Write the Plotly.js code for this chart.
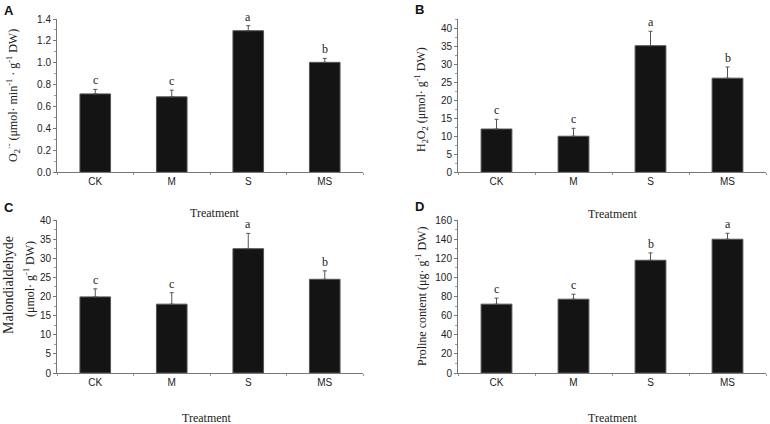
<!DOCTYPE html>
<html><head><meta charset="utf-8">
<script src="https://cdn.plot.ly/plotly-3.0.1.min.js"></script>
<style>html,body{margin:0;padding:0;background:#fff}</style>
</head><body><div id="chart" style="width:770px;height:424px"></div>
<script>
const categories = ['CK', 'M', 'S', 'MS'];

const superoxide = [0.716, 0.689, 1.293, 1.004];
const superoxideErr = [0.041, 0.061, 0.046, 0.036];
const superoxideLetters = ['c', 'c', 'a', 'b'];

const h2o2 = [12.0, 10.0, 35.1, 26.1];
const h2o2Err = [2.7, 2.2, 4.0, 3.1];
const h2o2Letters = ['c', 'c', 'a', 'b'];

const mda = [19.9, 18.0, 32.5, 24.5];
const mdaErr = [2.1, 3.0, 4.0, 2.2];
const mdaLetters = ['c', 'c', 'a', 'b'];

const proline = [72.0, 77.2, 117.9, 139.9];
const prolineErr = [6.3, 5.2, 7.7, 6.2];
const prolineLetters = ['c', 'c', 'b', 'a'];

const panels = [
  {vals: superoxide, err: superoxideErr, letters: superoxideLetters, ax: '', range: [0, 1.4], dtick: 0.2, minor: 0.1, fmt: '.1f'},
  {vals: h2o2, err: h2o2Err, letters: h2o2Letters, ax: '2', range: [0, 42.5], dtick: 5, minor: 2.5, fmt: 'd'},
  {vals: mda, err: mdaErr, letters: mdaLetters, ax: '3', range: [0, 40], dtick: 5, minor: 2.5, fmt: 'd'},
  {vals: proline, err: prolineErr, letters: prolineLetters, ax: '4', range: [0, 160], dtick: 20, minor: 10, fmt: 'd'}
];

const W = 770, H = 424;
const px = v => v / W;
const py = v => 1 - v / H;
const xDomL = [px(57), px(363)], xDomR = [px(458), px(766)];
const yDomT = [py(172.3), py(19)], yDomB = [py(373), py(220)];
const doms = [[xDomL, yDomT], [xDomR, yDomT], [xDomL, yDomB], [xDomR, yDomB]];

const tickFont = {family: 'Liberation Sans, Arial, sans-serif', size: 10, color: '#222'};
const serif = 'Liberation Serif, Times New Roman, serif';

const traces = [];
const layout = {
  width: W, height: H,
  margin: {l: 0, r: 0, t: 0, b: 0},
  paper_bgcolor: '#fff', plot_bgcolor: '#fff',
  showlegend: false,
  annotations: []
};

panels.forEach((p, i) => {
  const xa = 'x' + p.ax, ya = 'y' + p.ax;
  traces.push({
    type: 'bar', x: categories, y: p.vals, xaxis: xa, yaxis: ya,
    width: 0.4,
    marker: {color: '#141414', line: {color: '#555', width: 1}},
    error_y: {type: 'data', symmetric: false, array: p.err, arrayminus: p.err.map(() => 0),
              color: '#555', thickness: 1, width: 2}
  });
  layout['xaxis' + p.ax] = {
    domain: doms[i][0], anchor: ya, type: 'category', range: [-0.5, 3.5],
    showline: true, linecolor: '#777', linewidth: 1, showgrid: false, zeroline: false,
    ticks: 'outside', ticklen: 2, tickcolor: '#999', tickson: 'boundaries',
    tickfont: tickFont, fixedrange: true
  };
  layout['yaxis' + p.ax] = {
    domain: doms[i][1], anchor: xa, range: p.range, dtick: p.dtick, tick0: 0, tickformat: p.fmt,
    showline: true, linecolor: '#777', linewidth: 1, showgrid: false, zeroline: false,
    ticks: 'outside', ticklen: 3, tickcolor: '#777',
    minor: {dtick: p.minor, ticks: 'outside', ticklen: 2, tickcolor: '#999', showgrid: false},
    tickfont: tickFont, fixedrange: true
  };
  p.letters.forEach((l, j) => {
    layout.annotations.push({
      xref: xa, yref: ya, x: categories[j], y: p.vals[j] + p.err[j],
      text: l, showarrow: false, yanchor: 'bottom', xanchor: 'center', yshift: 0,
      font: {family: serif, size: 12, color: '#222'}
    });
  });
});

// panel letters
[['A', 9, 10], ['B', 420, 9], ['C', 9, 207], ['D', 420, 206]].forEach(([t, x, y]) => {
  layout.annotations.push({xref: 'paper', yref: 'paper', x: px(x), y: py(y), text: '<b>' + t + '</b>',
    showarrow: false, xanchor: 'center', yanchor: 'middle',
    font: {family: 'Liberation Sans, Arial, sans-serif', size: 13, color: '#111'}});
});

// x titles
[[215, 213], [613, 214], [207, 418], [613, 418]].forEach(([x, y]) => {
  layout.annotations.push({xref: 'paper', yref: 'paper', x: px(x), y: py(y), text: 'Treatment',
    showarrow: false, xanchor: 'center', yanchor: 'middle',
    font: {family: serif, size: 12, color: '#222'}});
});

// y titles
const yTitles = [
  {text: 'O<sub>2</sub><sup>·-</sup> (μmol· min<sup>-1</sup> · g<sup>-1</sup> DW)', x: 14, y: 96, size: 12},
  {text: 'H<sub>2</sub>O<sub>2</sub> (μmol· g<sup>-1</sup> DW)', x: 421, y: 100, size: 12},
  {text: 'Malondialdehyde', x: 8, y: 285, size: 14},
  {text: '(μmol· g<sup>-1</sup> DW)', x: 29, y: 279, size: 12},
  {text: 'Proline content (μg· g<sup>-1</sup> DW)', x: 421, y: 297, size: 12}
];
yTitles.forEach(t => {
  layout.annotations.push({xref: 'paper', yref: 'paper', x: px(t.x), y: py(t.y), text: t.text,
    showarrow: false, xanchor: 'center', yanchor: 'middle', textangle: -90,
    font: {family: serif, size: t.size, color: '#222'}});
});

Plotly.newPlot('chart', traces, layout, {displayModeBar: false, staticPlot: true});
</script>
</body></html>
